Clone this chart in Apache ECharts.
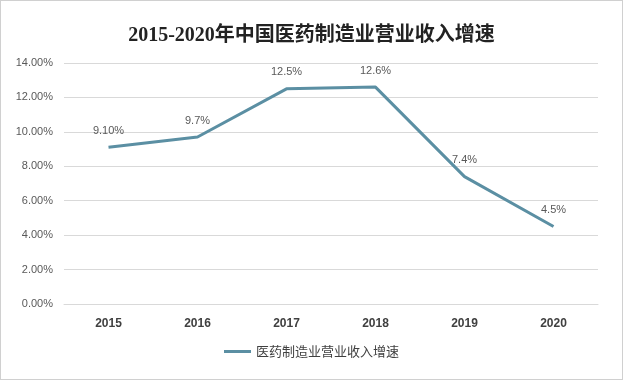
<!DOCTYPE html>
<html><head><meta charset="utf-8">
<script src="https://cdn.jsdelivr.net/npm/echarts@6/dist/echarts.min.js"></script>
<style>html,body{margin:0;padding:0;background:#fff}#c{position:absolute;left:0;top:0;width:621px;height:378px;border:1px solid #d0d0d0}</style>
</head><body><div id="c"></div>
<script>
const years = ['2015','2016','2017','2018','2019','2020'];
const growth = [9.1, 9.7, 12.5, 12.6, 7.4, 4.5];
const labels = ['9.10%','9.7%','12.5%','12.6%','7.4%','4.5%'];
const seriesName = '医药制造业营业收入增速';
const chart = echarts.init(document.getElementById('c'));
chart.setOption({
  animation:false,
  title:{text:'2015-2020年中国医药制造业营业收入增速',left:'center',top:20,
    textStyle:{fontFamily:'Liberation Serif, Noto Sans CJK SC',fontWeight:'bold',fontSize:20,color:'#222'}},
  legend:{bottom:16,left:'center',itemWidth:27,itemHeight:3,icon:'rect',itemGap:4,
    textStyle:{fontFamily:'Noto Sans CJK SC',fontSize:13,color:'#404040'},
    data:[{name:seriesName,itemStyle:{color:'#5b8fa3',opacity:1}}]},
  grid:{left:63,right:24,top:62,bottom:75},
  xAxis:{type:'category',data:years,boundaryGap:true,
    axisLine:{lineStyle:{color:'#d9d9d9'}},axisTick:{show:false},
    axisLabel:{fontFamily:'Liberation Sans',fontWeight:'bold',fontSize:12,color:'#404040',margin:14}},
  yAxis:{type:'value',min:0,max:14,interval:2,
    axisLine:{show:false},axisTick:{show:false},
    splitLine:{lineStyle:{color:'#d9d9d9'}},
    axisLabel:{formatter:v=>v.toFixed(2)+'%',fontFamily:'Liberation Sans',fontSize:11,color:'#595959',margin:11}},
  series:[{name:seriesName,type:'line',data:growth,symbol:'circle',symbolSize:0.01,showSymbol:true,
    lineStyle:{color:'#5b8fa3',width:3},itemStyle:{color:'#5b8fa3'},
    label:{show:true,position:'top',distance:11,formatter:p=>labels[p.dataIndex],
      fontFamily:'Liberation Sans',fontSize:11,color:'#595959'}}]
});
</script></body></html>
